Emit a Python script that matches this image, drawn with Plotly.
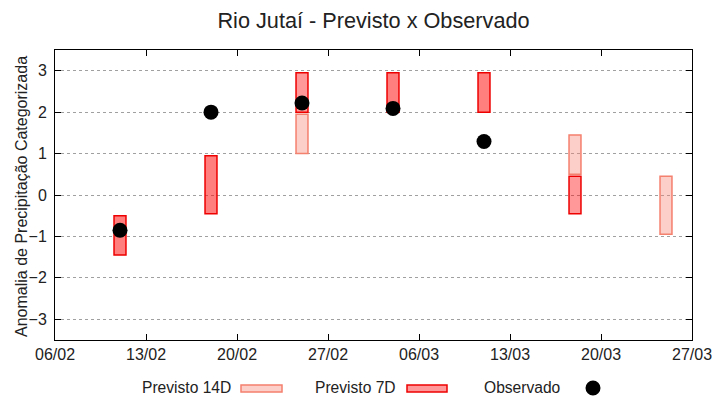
import plotly.graph_objects as go

# ---- data ----
dates_7d = ["2023-02-11", "2023-02-18", "2023-02-25", "2023-03-04", "2023-03-11", "2023-03-18"]
low_7d = [-1.45, -0.45, 2.0, 2.0, 2.0, -0.45]
high_7d = [-0.5, 0.95, 2.95, 2.95, 2.95, 0.45]

dates_14d = ["2023-02-25", "2023-03-18", "2023-03-25"]
low_14d = [1.0, 0.5, -0.95]
high_14d = [1.95, 1.45, 0.45]

dates_obs = ["2023-02-11", "2023-02-18", "2023-02-25", "2023-03-04", "2023-03-11"]
obs = [-0.85, 2.0, 2.22, 2.09, 1.29]

x_ticks = ["2023-02-06", "2023-02-13", "2023-02-20", "2023-02-27",
           "2023-03-06", "2023-03-13", "2023-03-20", "2023-03-27"]
x_ticklabels = ["06/02", "13/02", "20/02", "27/02", "06/03", "13/03", "20/03", "27/03"]
y_ticks = [-3, -2, -1, 0, 1, 2, 3]

# ---- styles ----
FONT = "Liberation Sans, Arial, sans-serif"
c14_fill = "rgba(250,128,114,0.38)"
c14_line = "#f4806e"
c7_fill = ["rgba(255,0,0,0.5)", "rgba(255,0,0,0.5)", "rgba(255,0,0,0.4)",
           "rgba(255,0,0,0.5)", "rgba(255,0,0,0.5)", "rgba(255,0,0,0.4)"]
c7_line = "#ee0000"
BAR_W = 0.92 * 86400000

# page has an 8px body margin: figure is drawn 8px right/down
OFF = 8
W, H = 720 - OFF, 400 - OFF
PL, PR, PT, PB = 55, 692, 50, 340   # plot area in page pixels

fig = go.Figure()
fig.add_trace(go.Bar(
    x=dates_14d, base=low_14d, y=[h - l for h, l in zip(high_14d, low_14d)],
    width=BAR_W, marker=dict(color=c14_fill, line=dict(color=c14_line, width=1.5)),
    name="Previsto 14D", hoverinfo="skip"))
fig.add_trace(go.Bar(
    x=dates_7d, base=low_7d, y=[h - l for h, l in zip(high_7d, low_7d)],
    width=BAR_W, marker=dict(color=c7_fill, line=dict(color=c7_line, width=1.5)),
    name="Previsto 7D", hoverinfo="skip"))
fig.add_trace(go.Scatter(
    x=dates_obs, y=obs, mode="markers",
    marker=dict(color="black", size=15, symbol="circle"),
    name="Observado"))

# custom legend (text left, sample right) below the plot
def px2paper_x(px):
    return (px - PL) / (PR - PL)

def px2paper_y(py):
    return (PB - py) / (PB - PT)

legend_items = [("Previsto 14D", 233, "box", c14_fill, c14_line, 241, 282),
                ("Previsto 7D", 398, "box", "rgba(255,0,0,0.4)", c7_line, 407, 447),
                ("Observado", 563, "dot", "black", "black", 593, 593)]
shapes = []
annotations = []
for label, tx, kind, fill, line, bx0, bx1 in legend_items:
    annotations.append(dict(text=label, x=px2paper_x(tx), y=px2paper_y(387),
                            xref="paper", yref="paper", xanchor="right", yanchor="middle",
                            showarrow=False, font=dict(family=FONT, size=15.6, color="#222")))
    if kind == "box":
        shapes.append(dict(type="rect", xref="paper", yref="paper",
                           x0=px2paper_x(bx0), x1=px2paper_x(bx1),
                           y0=px2paper_y(392), y1=px2paper_y(385),
                           fillcolor=fill, line=dict(color=line, width=1.5)))
    else:
        shapes.append(dict(type="circle", xref="paper", yref="paper",
                           xsizemode="pixel", ysizemode="pixel",
                           xanchor=px2paper_x(bx0), yanchor=px2paper_y(388),
                           x0=-7.5, x1=7.5, y0=-7.5, y1=7.5,
                           fillcolor=fill, line=dict(color=line, width=0)))

# y-axis title placed as rotated annotation
annotations.append(dict(text="Anomalia de Precipitação Categorizada",
                        x=px2paper_x(21), y=px2paper_y(197), xref="paper", yref="paper",
                        xanchor="center", yanchor="middle", textangle=-90, showarrow=False,
                        font=dict(family=FONT, size=16, color="#222")))

fig.update_layout(
    width=W, height=H,
    margin=dict(l=PL - OFF, r=720 - PR, t=PT - OFF, b=400 - PB, autoexpand=False),
    paper_bgcolor="white", plot_bgcolor="white",
    showlegend=False, barmode="overlay",
    font=dict(family=FONT, size=16, color="#222"),
    title=dict(text="Rio Jutaí - Previsto x Observado", x=0.5, xref="paper",
               y=1 - (20 - OFF) / H, yref="container", xanchor="center", yanchor="middle",
               font=dict(family=FONT, size=21.7, color="#222")),
    shapes=shapes, annotations=annotations,
)
fig.update_xaxes(
    type="date", range=["2023-02-06", "2023-03-27"], automargin=False,
    tickvals=x_ticks, ticktext=x_ticklabels,
    ticks="inside", ticklen=6, tickcolor="black", mirror="allticks",
    showline=True, linecolor="black", linewidth=1, showgrid=False, zeroline=False,
    tickfont=dict(family=FONT, size=16, color="#222"),
)
fig.update_yaxes(
    range=[-3.5, 3.5], tickvals=y_ticks, automargin=False,
    ticks="inside", ticklen=6, tickcolor="black", mirror="allticks",
    showline=True, linecolor="black", linewidth=1, ticklabelstandoff=4,
    showgrid=True, gridcolor="#a0a0a0", griddash="dot", gridwidth=1, zeroline=False,
    tickfont=dict(family=FONT, size=16, color="#222"),
)

fig.write_html("out.html")
